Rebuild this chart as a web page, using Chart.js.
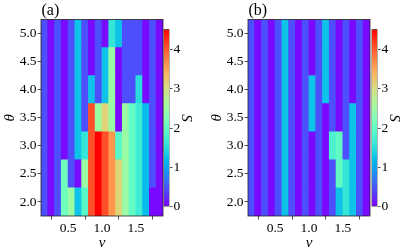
<!DOCTYPE html>
<html>
<head>
<meta charset="utf-8">
<script src="https://cdn.jsdelivr.net/npm/chart.js@4"></script>
<style>
  body { margin: 0; background: #fff; width: 415px; height: 252px; position: relative; overflow: hidden; }
  canvas { position: absolute; top: 0; }
</style>
</head>
<body>
<canvas id="heatA" width="164" height="252" style="left:0px"></canvas>
<canvas id="barA" width="40" height="252" style="left:160px"></canvas>
<canvas id="heatB" width="164" height="252" style="left:207px"></canvas>
<canvas id="barB" width="40" height="252" style="left:367.5px"></canvas>
<script>
// cell centres
const nu = [0.15, 0.25, 0.35, 0.45, 0.55, 0.65, 0.75, 0.85, 0.95, 1.05, 1.15, 1.25, 1.35, 1.45, 1.55, 1.65, 1.75, 1.85];
const theta = [2.0, 2.5, 3.0, 3.5, 4.0, 4.5, 5.0];
const nuTicks = [0.5, 1.0, 1.5];
const thetaTicks = [2.0, 2.5, 3.0, 3.5, 4.0, 4.5, 5.0];
const sTicks = [0, 1, 2, 3, 4];
const sMax = 4.51;

// S, one row per theta (2.0 at the bottom up to 5.0), one value per nu
const sA = [
  [0.45, 0.05, 0.45, 2.1, 2.5, 1.25, 1.9, 4.05, 4.51, 4.05, 3.6, 3.1, 2.5, 2.0, 1.7, 1.2, 0.05, 0.05],
  [0.45, 0.05, 0.45, 2.1, 0.45, 0.05, 2.5, 4.05, 4.51, 4.05, 3.6, 3.1, 2.5, 2.0, 1.7, 1.2, 0.45, 0.05],
  [0.45, 0.05, 0.45, 0.05, 0.45, 1.25, 1.6, 4.05, 4.51, 4.05, 3.6, 1.9, 2.5, 2.0, 1.7, 1.2, 0.45, 0.05],
  [0.45, 0.05, 0.45, 0.05, 0.45, 1.25, 0.45, 4.05, 2.5, 3.1, 2.5, 0.05, 2.5, 2.0, 1.7, 1.2, 0.45, 0.05],
  [0.45, 0.05, 0.45, 0.05, 0.45, 1.25, 0.45, 1.25, 0.45, 1.25, 2.5, 0.05, 0.45, 0.45, 1.5, 0.05, 0.45, 0.05],
  [0.45, 0.05, 0.45, 0.05, 0.45, 1.25, 0.45, 0.05, 0.45, 1.25, 2.5, 0.05, 0.45, 0.45, 0.45, 0.05, 0.45, 0.05],
  [0.45, 0.05, 0.45, 0.05, 0.45, 1.25, 0.45, 0.05, 0.45, 0.05, 1.6, 1.25, 0.45, 0.45, 0.45, 0.05, 0.45, 0.05]
];
const sB = [
  [0.45, 0.05, 0.45, 0.05, 0.45, 1.25, 0.45, 0.05, 0.45, 0.05, 0.45, 0.05, 0.45, 1.25, 1.6, 1.25, 0.45, 0.05],
  [0.45, 0.05, 0.45, 0.05, 0.45, 1.25, 0.45, 0.05, 0.45, 0.05, 0.45, 0.05, 0.45, 2.0, 1.6, 1.25, 0.45, 0.05],
  [0.45, 0.05, 0.45, 0.05, 0.45, 1.25, 0.45, 0.05, 0.45, 0.05, 0.45, 0.05, 1.8, 2.0, 0.45, 1.25, 0.45, 0.05],
  [0.45, 0.05, 0.45, 0.05, 0.45, 1.25, 0.45, 0.05, 0.45, 1.25, 0.45, 0.05, 0.45, 0.05, 0.45, 1.25, 0.45, 0.05],
  [0.45, 0.05, 0.45, 0.05, 0.45, 1.25, 0.45, 0.05, 0.45, 1.25, 0.45, 1.25, 0.45, 0.05, 0.45, 0.05, 0.45, 0.05],
  [0.45, 0.05, 0.45, 0.05, 0.45, 1.25, 0.45, 0.05, 0.45, 0.05, 0.45, 1.25, 0.45, 0.05, 0.45, 0.05, 0.45, 0.05],
  [0.45, 0.05, 0.45, 0.05, 0.45, 1.25, 0.45, 0.05, 0.45, 0.05, 0.45, 1.25, 0.45, 0.05, 0.45, 0.05, 0.45, 0.05]
];

const serif = 'Liberation Serif';
const tickFont = { family: serif, size: 13.5 };
const titleFont = { family: serif, size: 15, style: 'italic' };
const ink = '#222';

// matplotlib "rainbow"
function rainbow(t) {
  t = Math.min(1, Math.max(0, t));
  const r = Math.min(1, Math.abs(2 * t - 0.5));
  const g = Math.sin(Math.PI * t);
  const b = Math.cos(Math.PI * t / 2);
  return 'rgb(' + Math.round(r * 255) + ',' + Math.round(g * 255) + ',' + Math.round(b * 255) + ')';
}

const frame = {
  id: 'frame',
  afterDatasetsDraw(chart) {
    const { ctx, chartArea: a } = chart;
    ctx.save();
    ctx.strokeStyle = ink;
    ctx.lineWidth = 0.8;
    ctx.strokeRect(a.left, a.top, a.right - a.left, a.bottom - a.top);
    ctx.restore();
  }
};

const panelLabel = {
  id: 'panelLabel',
  afterDraw(chart, args, opts) {
    const { ctx, chartArea: a } = chart;
    ctx.save();
    ctx.font = '16px "' + serif + '"';
    ctx.fillStyle = '#000';
    ctx.textBaseline = 'alphabetic';
    ctx.fillText(opts.text, a.left + 0.5, 14.5);
    ctx.restore();
  }
};

function heatmap(id, values, label) {
  const datasets = theta.map((th, i) => ({
    data: nu.map(x => ({ x: x, y: [th - 0.25, th + 0.25] })),
    backgroundColor: values[i].map(v => rainbow(v / sMax)),
    borderWidth: 0,
    inflateAmount: 0.4,
    barPercentage: 1,
    categoryPercentage: 1,
    grouped: false
  }));

  new Chart(document.getElementById(id), {
    type: 'bar',
    data: { datasets },
    plugins: [frame, panelLabel],
    options: {
      responsive: false,
      animation: false,
      layout: { padding: { top: 19.5, right: 1, left: 0, bottom: 0 } },
      plugins: {
        legend: { display: false },
        tooltip: { enabled: false },
        panelLabel: { text: label }
      },
      scales: {
        x: {
          type: 'linear',
          offset: false,
          min: 0.1,
          max: 1.9,
          afterBuildTicks: a => { a.ticks = nuTicks.map(v => ({ value: v })); },
          afterFit: a => { a.height = 36; },
          ticks: { callback: v => v.toFixed(1), font: tickFont, color: '#000', padding: 1, maxRotation: 0 },
          grid: { drawOnChartArea: false, tickLength: 3.5, color: ink, lineWidth: 0.8 },
          border: { display: false },
          title: { display: true, text: 'ν', font: titleFont, color: '#000', padding: { top: 0, bottom: 0 } }
        },
        y: {
          type: 'linear',
          min: 1.75,
          max: 5.25,
          afterBuildTicks: a => { a.ticks = thetaTicks.map(v => ({ value: v })); },
          afterFit: a => { a.width = 41; },
          ticks: { callback: v => v.toFixed(1), font: tickFont, color: '#000', padding: 1 },
          grid: { drawOnChartArea: false, tickLength: 3.5, color: ink, lineWidth: 0.8 },
          border: { display: false },
          title: { display: true, text: 'θ', font: titleFont, color: '#000', padding: 1.5 }
        }
      }
    }
  });
}

function colorbar(id) {
  new Chart(document.getElementById(id), {
    type: 'bar',
    data: {
      labels: ['S'],
      datasets: [{
        data: [[0, sMax]],
        backgroundColor: ctx => {
          const chart = ctx.chart;
          if (!chart.chartArea) return rainbow(0.5);
          const y = chart.scales.y;
          const g = chart.ctx.createLinearGradient(0, y.getPixelForValue(0), 0, y.getPixelForValue(sMax));
          for (let i = 0; i <= 40; i++) g.addColorStop(i / 40, rainbow(i / 40));
          return g;
        },
        borderWidth: 0.8,
        borderColor: ink,
        borderSkipped: false,
        barPercentage: 1,
        categoryPercentage: 1
      }]
    },
    options: {
      responsive: false,
      animation: false,
      layout: { padding: { left: 3.5, top: 29.3, bottom: 45.3, right: 0 } },
      plugins: { legend: { display: false }, tooltip: { enabled: false } },
      scales: {
        x: { display: false },
        y: {
          position: 'right',
          min: 0,
          max: sMax,
          afterBuildTicks: a => { a.ticks = sTicks.map(v => ({ value: v })); },
          afterFit: a => { a.width = 30.5; },
          ticks: { font: tickFont, color: '#000', padding: 1 },
          grid: { drawOnChartArea: false, tickLength: 3, color: ink, lineWidth: 0.8 },
          border: { display: false },
          title: { display: true, text: 'S', font: titleFont, color: '#000', padding: 5 }
        }
      }
    }
  });
}

heatmap('heatA', sA, '(a)');
colorbar('barA');
heatmap('heatB', sB, '(b)');
colorbar('barB');
</script>
</body>
</html>
